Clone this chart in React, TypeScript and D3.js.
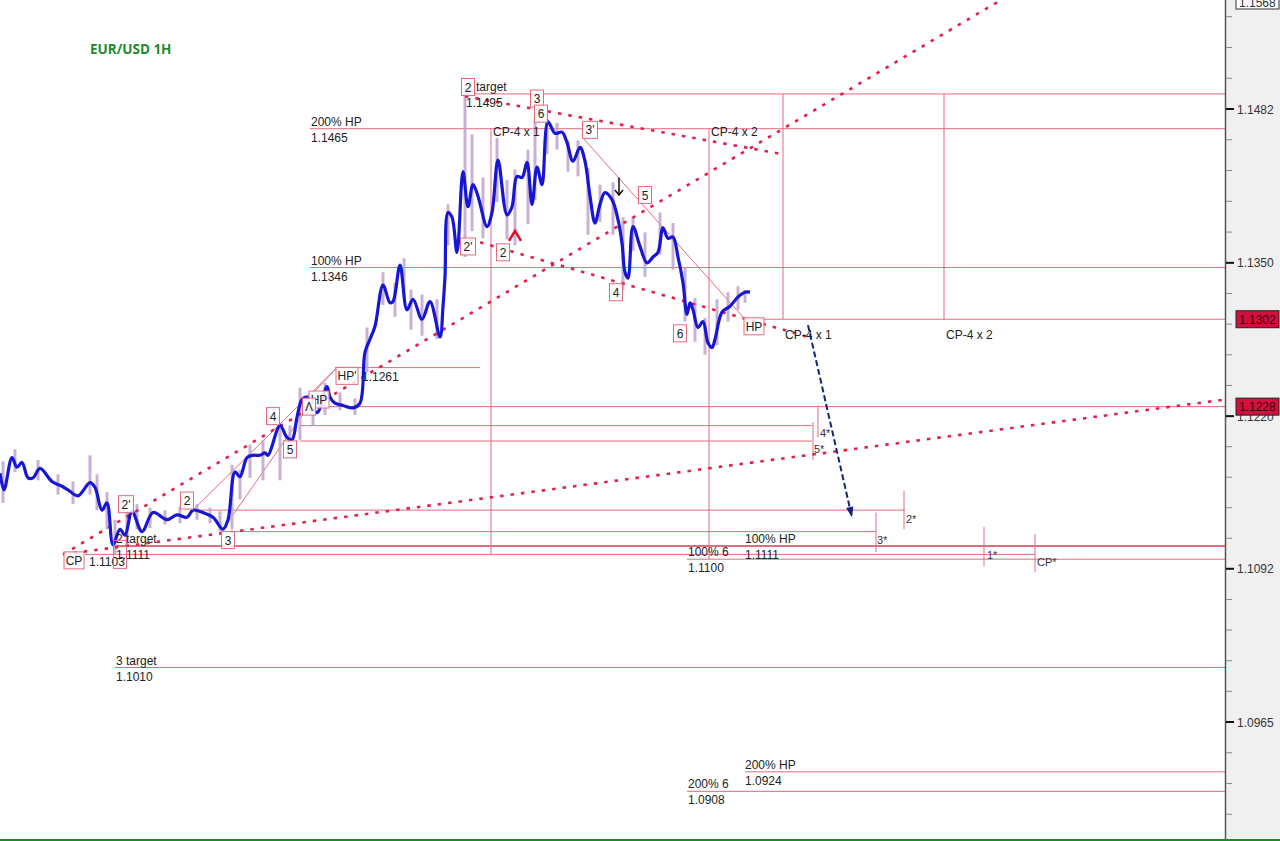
import * as d3 from 'd3'

// hourly bars (1 unit = one bar slot) and smoothed close
const lineT = [0, 0.8, 2.4, 3.4, 4.4, 5.6, 6.6, 8, 10.4, 12.4, 13.6, 15.6, 18, 19, 20.4, 21.4, 22.6, 24, 25, 26.4, 28.4, 30.6, 33.4, 35.4, 37.4, 38.6, 40.6, 42.6, 44.6, 45.6, 47, 48, 49.4, 50.6, 52, 53, 53.6, 56, 57.4, 58.4, 59.4, 60.4, 61.4, 63.4, 65.4, 66, 67, 68.6, 70.6, 72, 73, 74, 75, 76.6, 78, 78.6, 80, 81.4, 82.6, 84.4, 86, 88, 88.6, 89, 89.6, 90.4, 91.4, 92.6, 93.6, 94.6, 95.6, 97.4, 98.4, 99.6, 101.4, 102.4, 103.4, 104.4, 105.4, 106.4, 107.4, 108.4, 109.6, 111, 112.4, 113.4, 114.6, 116, 117, 118, 119, 120, 121, 122.4, 123.6, 124.4, 125, 125.6, 126.6, 128, 129.4, 130.6, 131.6, 132.6, 133.6, 134.6, 135.6, 136.6, 137.4, 138, 138.6, 139.6, 140.6, 141.6, 142.4, 143, 144.4, 146, 147.6, 149, 150]
const linePrice = [1.1172, 1.1158, 1.1185, 1.1177, 1.1181, 1.1168, 1.1168, 1.1176, 1.1165, 1.1161, 1.1158, 1.1153, 1.1164, 1.1160, 1.1141, 1.1147, 1.1112, 1.1125, 1.1120, 1.1140, 1.1123, 1.1139, 1.1133, 1.1137, 1.1135, 1.1141, 1.1139, 1.1135, 1.1125, 1.1133, 1.1173, 1.1169, 1.1185, 1.1187, 1.1187, 1.1189, 1.1187, 1.1212, 1.1202, 1.1200, 1.1219, 1.1234, 1.1236, 1.1223, 1.1245, 1.1236, 1.1231, 1.1229, 1.1227, 1.1231, 1.1274, 1.1285, 1.1296, 1.1331, 1.1316, 1.1317, 1.1348, 1.1310, 1.1319, 1.1302, 1.1317, 1.1287, 1.1313, 1.1338, 1.1393, 1.1389, 1.1359, 1.1428, 1.1398, 1.1417, 1.1407, 1.1381, 1.1393, 1.1438, 1.1391, 1.1398, 1.1424, 1.1423, 1.1436, 1.1400, 1.1432, 1.1417, 1.1471, 1.1461, 1.1462, 1.1453, 1.1437, 1.1449, 1.1437, 1.1407, 1.1384, 1.1400, 1.1410, 1.1404, 1.1387, 1.1367, 1.1342, 1.1337, 1.1381, 1.1364, 1.1350, 1.1355, 1.1359, 1.1380, 1.1371, 1.1372, 1.1355, 1.1333, 1.1306, 1.1316, 1.1310, 1.1295, 1.1300, 1.1282, 1.1278, 1.1285, 1.1308, 1.1313, 1.1321, 1.1325, 1.1325]

// candle wicks
const wickT = [0.6, 3, 7.6, 11.6, 14.6, 18, 19.4, 21.4, 23, 25.4, 27.4, 30, 33, 36, 39.4, 42, 44, 46.4, 48, 50, 52.6, 56, 58, 60, 62.6, 65, 68, 71, 73.4, 76.6, 79, 80.8, 82.2, 84.4, 87.4, 89.6, 93, 94.4, 96.6, 99.4, 101.4, 103, 105.6, 107, 109.4, 111.4, 113.6, 115.6, 117.6, 120, 122.6, 124.6, 126.6, 129, 132, 134.6, 137, 139, 141, 143.4, 145.6, 147.6, 149]
const wickHigh = [1.1182, 1.1192, 1.1183, 1.1171, 1.1165, 1.1187, 1.1171, 1.1156, 1.1133, 1.1146, 1.1146, 1.1143, 1.1141, 1.1144, 1.1146, 1.1143, 1.1140, 1.1179, 1.1175, 1.1196, 1.1200, 1.1210, 1.1212, 1.1244, 1.1238, 1.1248, 1.1240, 1.1235, 1.1295, 1.1342, 1.1333, 1.1354, 1.1327, 1.1323, 1.1319, 1.1400, 1.1509, 1.1460, 1.1423, 1.1457, 1.1421, 1.1430, 1.1447, 1.1474, 1.1474, 1.1470, 1.1455, 1.1455, 1.1431, 1.1417, 1.1419, 1.1389, 1.1389, 1.1376, 1.1393, 1.1384, 1.1346, 1.1320, 1.1303, 1.1319, 1.1325, 1.1330, 1.1327]
const wickLow = [1.1147, 1.1173, 1.1166, 1.1154, 1.1146, 1.1154, 1.1141, 1.1125, 1.1104, 1.1112, 1.1125, 1.1126, 1.1129, 1.1130, 1.1133, 1.1130, 1.1123, 1.1125, 1.1150, 1.1168, 1.1166, 1.1166, 1.1187, 1.1200, 1.1212, 1.1221, 1.1225, 1.1221, 1.1257, 1.1314, 1.1304, 1.1320, 1.1293, 1.1288, 1.1285, 1.1365, 1.1355, 1.1377, 1.1371, 1.1402, 1.1370, 1.1365, 1.1383, 1.1404, 1.1443, 1.1447, 1.1428, 1.1424, 1.1374, 1.1385, 1.1374, 1.1327, 1.1360, 1.1338, 1.1357, 1.1344, 1.1300, 1.1283, 1.1272, 1.1280, 1.1300, 1.1310, 1.1316]

// horizontal levels
const levelPrice = [1.1495, 1.1465, 1.1346, 1.1302, 1.1261, 1.1228, 1.1212, 1.1199, 1.1141, 1.1123, 1.1111, 1.1104, 1.1100, 1.1010, 1.0924, 1.0908]
const levelStart = [93, 62, 62, 149, 67, 60, 60, 60, 38.6, 45, 22.6, 17, 137.4, 23, 149, 137.4]
const levelEnd = [245, 245, 245, 245, 96, 245, 162.4, 162.4, 181, 175.2, 245, 207, 245, 245, 245, 245]
const levelWeight = [1, 1, 1, 1, 1, 1, 1, 1, 1, 1, 2, 1, 1, 1, 1, 1]

// two-line level labels
const tagTop = ['2 target', '200% HP', '100% HP', '2 target', '100% HP', '100% 6', '3 target', '200% HP', '200% 6']
const tagBottom = ['1.1495', '1.1465', '1.1346', '1.1111', '1.1111', '1.1100', '1.1010', '1.0924', '1.0908']
const tagT = [93.2, 62.2, 62.2, 23.2, 149, 137.6, 23.2, 149, 137.6]
const tagPrice = [1.1495, 1.1465, 1.1346, 1.1111, 1.1111, 1.1100, 1.1010, 1.0924, 1.0908]

// wave point boxes
const boxLabel = ['2', '3', '6', "3'", '5', "2'", '2', '4', '6', 'HP', "HP'", 'HP', 'Λ', '4', '5', "2'", '2', '3', 'CP', '']
const boxT = [93.6, 107.4, 108.2, 118, 129, 93.6, 100.6, 123.2, 136, 150.8, 69.4, 63.8, 61.8, 54.6, 58, 25.2, 37.4, 45.6, 14.8, 24]
const boxPrice = [1.1501, 1.1491, 1.1478, 1.1464, 1.1408, 1.1364, 1.1359, 1.1325, 1.1290, 1.1296, 1.1254, 1.1234, 1.1228, 1.1220, 1.1192, 1.1146, 1.1149, 1.1116, 1.1099, 1.1104]

// free texts
const noteText = ['CP-4 x 1', 'CP-4 x 2', 'CP-4 x 1', 'CP-4 x 2', '1.1261', '1.1103']
const noteT = [98.6, 142.2, 157, 189.2, 72.4, 17.8]
const notePrice = [1.1459, 1.1459, 1.1285, 1.1285, 1.1250, 1.1094]

// projection ticks
const starLabel = ['4*', '5*', '2*', '3*', '1*', 'CP*']
const starTickT = [163.6, 162.6, 180.8, 175.2, 196.8, 207]
const starTickHi = [1.1229, 1.1215, 1.1157, 1.1139, 1.1127, 1.1121]
const starTickLo = [1.1202, 1.1183, 1.1125, 1.1106, 1.1094, 1.1089]
const starTextT = [164, 162.8, 181.2, 175.4, 197.4, 207.4]
const starTextPrice = [1.1202, 1.1189, 1.1130, 1.1113, 1.1100, 1.1094]

// vertical time lines
const vT = [98.2, 141.8, 156.6, 188.8]
const vTop = [1.1465, 1.1465, 1.1495, 1.1495]
const vBottom = [1.1104, 1.1100, 1.1302, 1.1302]

// dotted trend lines [t0, p0, t1, p1]
const dotted = [
  [12.6, 1.1104, 200, 1.1576],
  [12.6, 1.1104, 245, 1.1234],
  [93, 1.1493, 156.6, 1.1443],
  [94, 1.1370, 161.6, 1.1287],
]
// thin solid wave lines
const solid = [
  [116.6, 1.1457, 149, 1.1302],
  [38.6, 1.1141, 67.4, 1.1261],
  [44.6, 1.1125, 62, 1.1230],
  [61, 1.1232, 67.4, 1.1261],
]

const axisMajor = [1.1482, 1.1350, 1.1220, 1.1092, 1.0965]
const markerPrice = [1.1302, 1.1228]
const topPrice = '1.1568'

const PINK = '#e46a82'
const DOT = '#e2204c'
const FONT = '"Liberation Sans", Arial, sans-serif'

export default function App() {
  const x = d3.scaleLinear().domain([0, 245]).range([0, 1225])
  const y = d3.scaleLog().domain([1.1482, 1.0965]).range([109, 722])

  const pts = lineT.map((t, i) => [t, linePrice[i]] as [number, number])
  const line = d3.line<[number, number]>()
    .x(d => x(d[0]))
    .y(d => y(d[1]))
    .curve(d3.curveCatmullRom.alpha(0.5))

  // axis minor ticks: 5 per major interval
  const minor: number[] = []
  for (let i = 0; i < axisMajor.length - 1; i++) {
    const a = y(axisMajor[i]), b = y(axisMajor[i + 1])
    for (let k = 1; k < 5; k++) minor.push(a + (k * (b - a)) / 5)
  }
  const step = (y(axisMajor[1]) - y(axisMajor[0])) / 5
  for (let k = 1; k <= 3; k++) {
    minor.push(y(axisMajor[0]) - k * step)
    minor.push(y(axisMajor[axisMajor.length - 1]) + k * step)
  }

  // blue projection arrow
  const ax0 = x(161.6), ay0 = y(1.1297), ax1 = x(170.4), ay1 = y(1.1135)
  const ang = Math.atan2(ay1 - ay0, ax1 - ax0)
  const head = (len: number, spread: number) =>
    [ang + Math.PI - spread, ang + Math.PI + spread]
      .map(a => `${ax1 + len * Math.cos(a)},${ay1 + len * Math.sin(a)}`)
      .join(' ')

  const boxW = (s: string) => (s === '' ? 13 : Math.max(13, s.replace("'", '').length * 7 + 6 + (s.includes("'") ? 2 : 0)))

  return (
    <svg width={1280} height={841} style={{ position: 'absolute', left: 0, top: 0, background: '#fff' }} fontFamily={FONT}>
      <rect x={0} y={0} width={1280} height={841} fill="#fff" />

      {/* title */}
      <text x={90} y={54} fill="#1f8a2e" fontFamily='"Open Sans", sans-serif' fontWeight="bold" fontSize={13.5}>EUR/USD 1H</text>

      {/* levels */}
      {levelPrice.map((p, i) => (
        <line key={'lv' + i} x1={x(levelStart[i])} x2={x(levelEnd[i])} y1={y(p)} y2={y(p)} stroke={PINK} strokeWidth={levelWeight[i]} />
      ))}
      {vT.map((t, i) => (
        <line key={'vl' + i} x1={x(t)} x2={x(t)} y1={y(vTop[i])} y2={y(vBottom[i])} stroke={PINK} strokeWidth={1} />
      ))}
      {starTickT.map((t, i) => (
        <line key={'st' + i} x1={x(t)} x2={x(t)} y1={y(starTickHi[i])} y2={y(starTickLo[i])} stroke={PINK} strokeWidth={1} />
      ))}
      {solid.map((s, i) => (
        <line key={'so' + i} x1={x(s[0])} y1={y(s[1])} x2={x(s[2])} y2={y(s[3])} stroke={PINK} strokeWidth={1} />
      ))}

      {/* candles */}
      {wickT.map((t, i) => (
        <line key={'wk' + i} x1={x(t)} x2={x(t)} y1={y(wickHigh[i])} y2={y(wickLow[i])} stroke="#bea3cc" strokeOpacity={0.85} strokeWidth={3} />
      ))}

      {/* dotted trend lines */}
      {dotted.map((s, i) => (
        <line key={'dt' + i} x1={x(s[0])} y1={y(s[1])} x2={x(s[2])} y2={y(s[3])} stroke={DOT} strokeWidth={2.6} strokeDasharray="3.5,7" />
      ))}

      {/* price line */}
      <path d={line(pts) ?? ''} fill="none" stroke="#1616d4" strokeWidth={3.2} strokeLinejoin="round" />

      {/* level labels */}
      {tagTop.map((s, i) => (
        <g key={'tg' + i} fontSize={12} fill="#222">
          <text x={x(tagT[i])} y={y(tagPrice[i]) - 3}>{s}</text>
          <text x={x(tagT[i])} y={y(tagPrice[i]) + 13}>{tagBottom[i]}</text>
        </g>
      ))}
      {noteText.map((s, i) => (
        <text key={'nt' + i} x={x(noteT[i])} y={y(notePrice[i])} fontSize={12} fill="#222">{s}</text>
      ))}
      {starLabel.map((s, i) => (
        <text key={'sl' + i} x={x(starTextT[i])} y={y(starTextPrice[i])} fontSize={11} fill="#333">{s}</text>
      ))}

      {/* wave boxes */}
      {boxLabel.map((s, i) => {
        const w = boxW(s)
        const h = s === '' ? 28 : 17
        const cx = x(boxT[i]), cy = y(boxPrice[i])
        return (
          <g key={'bx' + i}>
            <rect x={cx - w / 2} y={cy - h / 2} width={w} height={h} fill={s === '' ? 'none' : '#fff'} fillOpacity={0.85} stroke={PINK} strokeWidth={1} />
            <text x={cx} y={cy + 4.5} textAnchor="middle" fontSize={12} fill="#222">{s}</text>
          </g>
        )
      })}

      {/* red caret */}
      <polyline points={`${x(103) - 6},${y(1.1373) + 5} ${x(103)},${y(1.1373) - 5} ${x(103) + 6},${y(1.1373) + 5}`} fill="none" stroke="#e0102a" strokeWidth={2.6} />
      {/* black arrow */}
      <line x1={x(123.8)} x2={x(123.8)} y1={y(1.1423)} y2={y(1.1408)} stroke="#111" strokeWidth={1.5} />
      <polyline points={`${x(123.8) - 4},${y(1.1408) - 5} ${x(123.8)},${y(1.1408)} ${x(123.8) + 4},${y(1.1408) - 5}`} fill="none" stroke="#111" strokeWidth={1.5} />

      {/* projection arrow */}
      <line x1={ax0} y1={ay0} x2={ax1} y2={ay1} stroke="#16237a" strokeWidth={2} strokeDasharray="6,3" />
      <polygon points={`${ax1},${ay1} ${head(11, 0.35)}`} fill="#16237a" />

      {/* right axis */}
      <rect x={1226} y={0} width={54} height={841} fill="#f0f0f0" />
      <line x1={1225.5} x2={1225.5} y1={0} y2={841} stroke="#555" strokeWidth={1.5} />
      {minor.map((v, i) => (
        <line key={'mn' + i} x1={1226} x2={1232} y1={v} y2={v} stroke="#888" strokeWidth={1} />
      ))}
      {axisMajor.map((m, i) => (
        <g key={'mj' + i}>
          <line x1={1226} x2={1234} y1={y(m)} y2={y(m)} stroke="#111" strokeWidth={2} />
          <text x={1237} y={y(m) + 4.5} fontSize={12} fill="#333">{d3.format('.4f')(m)}</text>
        </g>
      ))}
      {markerPrice.map((m, i) => (
        <g key={'mk' + i}>
          <rect x={1236} y={y(m) - 8.5} width={43} height={17} fill="#d3103c" stroke="#222" strokeWidth={1} />
          <text x={1239} y={y(m) + 4.5} fontSize={12} fill="#3a0010">{d3.format('.4f')(m)}</text>
        </g>
      ))}
      <rect x={1236} y={-8} width={43} height={17} fill="#fff" stroke="#333" strokeWidth={1} />
      <text x={1239} y={7} fontSize={12} fill="#333">{topPrice}</text>

      {/* bottom frame */}
      <line x1={0} x2={1280} y1={840} y2={840} stroke="#1a8a2a" strokeWidth={2} />
    </svg>
  )
}
